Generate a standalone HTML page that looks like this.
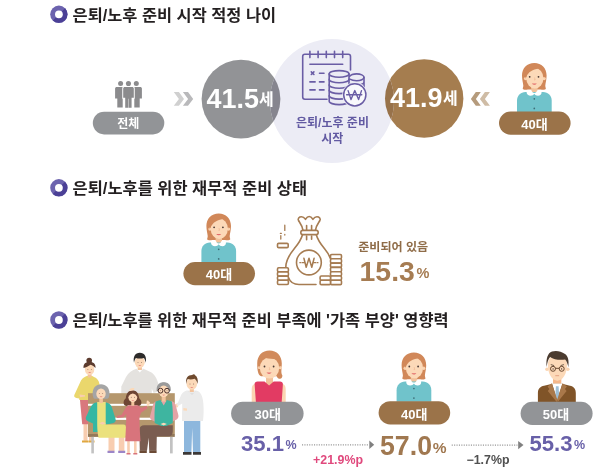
<!DOCTYPE html>
<html lang="ko"><head><meta charset="utf-8"><title>은퇴/노후 준비</title>
<style>
html,body{margin:0;padding:0;background:#fff;}
body{width:600px;height:471px;overflow:hidden;position:relative;font-family:"Liberation Sans",sans-serif;}
svg{display:block;position:absolute;left:0;top:0;filter:blur(0.4px);}
svg text{font-family:"Liberation Sans","Noto Sans CJK KR","NanumGothic",sans-serif;font-weight:bold;}
.sr{position:absolute;left:0;top:0;width:1px;height:1px;overflow:hidden;clip:rect(0 0 0 0);clip-path:inset(50%);white-space:nowrap;font-size:1px;color:transparent;}
</style></head><body>
<svg width="600" height="471" viewBox="0 0 600 471" role="img" aria-label="은퇴/노후 준비 인포그래픽">
<defs>
<clipPath id="cLav"><circle cx="332" cy="101" r="62"/></clipPath>
</defs>

<g transform="translate(58.9 14.3)"><circle cx="0" cy="0" r="8.7" fill="#6c63ae"/><path d="M6.15-6.15A8.7 8.7 0 0 1-6.15 6.15z" fill="#4b4096"/><circle cx="0" cy="0" r="3.9" fill="#fff"/></g>
<text x="72.6" y="20.8" font-size="16" fill="#231f20" textLength="203.5" lengthAdjust="spacingAndGlyphs">은퇴/노후 준비 시작 적정 나이</text>
<g transform="translate(58.9 187.8)"><circle cx="0" cy="0" r="8.7" fill="#6c63ae"/><path d="M6.15-6.15A8.7 8.7 0 0 1-6.15 6.15z" fill="#4b4096"/><circle cx="0" cy="0" r="3.9" fill="#fff"/></g>
<text x="72.6" y="194" font-size="16" fill="#231f20" textLength="234.5" lengthAdjust="spacingAndGlyphs">은퇴/노후를 위한 재무적 준비 상태</text>
<g transform="translate(58.9 320)"><circle cx="0" cy="0" r="8.7" fill="#6c63ae"/><path d="M6.15-6.15A8.7 8.7 0 0 1-6.15 6.15z" fill="#4b4096"/><circle cx="0" cy="0" r="3.9" fill="#fff"/></g>
<text x="72.6" y="326.2" font-size="16" fill="#231f20" textLength="376" lengthAdjust="spacingAndGlyphs">은퇴/노후를 위한 재무적 준비 부족에 '가족 부양' 영향력</text>
<g fill="#8b8b8d">
<circle cx="120.6" cy="83.5" r="2.5"/><circle cx="136.3" cy="83.5" r="2.5"/>
<path d="M115.1 88.5c0-.9.7-1.6 1.6-1.6h6v20.7h-5.4v-9h-2.2z"/>
<path d="M141.9 88.5c0-.9-.7-1.6-1.6-1.6h-6v20.7h5.4v-9h2.2z"/>
<g stroke="#fff" stroke-width="1.7" paint-order="stroke">
<circle cx="128.45" cy="83.5" r="2.55"/>
<path d="M123.2 88.5c0-.9.7-1.6 1.6-1.6h7.4c.9 0 1.6.7 1.6 1.6v9.3h-2.2v10h-3v-9h-.4v9h-3v-10h-2z"/>
</g>
</g>
<rect x="92.8" y="111.8" width="71.5" height="22.6" rx="11.3" fill="#929497"/>
<text x="128.3" y="127.6" font-size="12" fill="#fff" text-anchor="middle">전체</text>
<polygon fill="#d0d0d0" points="173.8,91.9 178.9,91.9 184,98.9 178.9,105.8 173.8,105.8 178.9,98.9"/>
<polygon fill="#b9b9bb" points="182.9,91.9 188,91.9 193.2,98.9 188,105.8 182.9,105.8 188.1,98.9"/>
<circle cx="241" cy="99.1" r="39.4" fill="#929396"/>
<circle cx="424.2" cy="98.5" r="39.2" fill="#a57d4f"/>
<circle cx="332" cy="101" r="62" fill="#ececf5"/>
<g clip-path="url(#cLav)"><circle cx="241" cy="99.1" r="39.4" fill="#86858f"/><circle cx="424.2" cy="98.5" r="39.2" fill="#98724a"/></g>
<text x="206.5" y="108" font-size="27.5" fill="#fff" textLength="52.4" lengthAdjust="spacingAndGlyphs">41.5</text>
<text x="259" y="104.6" font-size="16" fill="#fff">세</text>
<text x="390" y="107.1" font-size="27.5" fill="#fff" textLength="52.5" lengthAdjust="spacingAndGlyphs">41.9</text>
<text x="443.1" y="103.7" font-size="16" fill="#fff">세</text>
<polygon fill="#b59b7c" points="480.8,91.9 475.8,91.9 470.9,98.9 475.8,105.8 480.8,105.8 475.9,98.9"/>
<polygon fill="#cfbca5" points="489.9,91.9 484.9,91.9 479.9,98.9 484.9,105.8 489.9,105.8 484.9,98.9"/>
<text x="332.5" y="127.4" font-size="12" fill="#625aa2" text-anchor="middle">은퇴/노후 준비</text>
<text x="332.2" y="143.2" font-size="12" fill="#625aa2" text-anchor="middle">시작</text>
<g fill="none" stroke="#6a5da5" stroke-width="1.6" stroke-linecap="round" stroke-linejoin="round">
<path d="M327 99.2h-22.1c-1.3 0-2.2-.9-2.2-2.2V56.4c0-1.3.9-2.2 2.2-2.2h43.4c1.3 0 2.2.9 2.2 2.2v13.5"/>
<path d="M309.9 51.2v6.4M318.1 51.2v6.4M326.3 51.2v6.4M334.5 51.2v6.4M342.7 51.2v6.4"/>
<path d="M309.9 64.3h32.8"/>
<path d="M311.3 71.9l2.6 2.6M313.9 71.9l-2.6 2.6M319.5 73.2h4.5M309.9 81.9h5.2M319.5 81.9h4.5M309.9 89.9h5.2M319.5 89.9h4.5"/>
<!-- back stack -->
<path d="M349.4 76.5c1.4-1.7 4-2.6 7.2-2.6 4.1 0 7.4 1.5 7.4 3.4s-3.3 3.4-7.4 3.4c-2.7 0-5.2-.6-6.8-1.6"/>
<path d="M364 77.3v10M364 81.9c0 1.9-3.3 3.4-7.4 3.4-2.7 0-5.2-.6-6.8-1.6"/>
<!-- front stack -->
<g fill="#ececf5">
<path d="M329.2 73.9v27.4a9.9 3.3 0 0 0 19.8 0V73.9z"/>
<ellipse cx="339.1" cy="73.9" rx="9.9" ry="3.3"/>
</g>
<path d="M329.2 79.4c0 1.82 4.44 3.3 9.9 3.3s9.9 -1.48 9.9 -3.3M329.2 84.9c0 1.82 4.44 3.3 9.9 3.3s9.9 -1.48 9.9 -3.3M329.2 90.3c0 1.82 4.44 3.3 9.9 3.3s9.9 -1.48 9.9 -3.3M329.2 95.8c0 1.82 4.44 3.3 9.9 3.3s9.9 -1.48 9.9 -3.3"/>
<!-- won coin -->
<circle cx="354.8" cy="94.8" r="12.6" fill="#ececf5" stroke="none"/>
<circle cx="354.8" cy="94.8" r="11.1" fill="#f9f9fc" stroke-width="1.5"/>
<path d="M348.1 90.6l2.9 9 3.8-9 3.8 9 2.9-9M346.6 94.8h15.2" stroke-width="1.4"/>
</g>
<g>
  <!-- hair -->
  <path d="M534.3 62.9C527 62.9 522 68 522 75.5c0 4 1 7 1.3 10 .1 1.5-.7 2.5-.5 3.5.7 1 3.2.8 5.2.5h12.6c2 .3 4.5.5 5.2-.5.2-1-.6-2-.5-3.5.3-3 1.3-6 1.3-10 0-7.5-5-12.6-12.3-12.6z" fill="#d18859"/>
  <!-- neck -->
  <rect x="531.2" y="84" width="6.4" height="9" fill="#f2c19a"/>
  <!-- ears -->
  <circle cx="525.6" cy="78.6" r="1.7" fill="#fbd5b2"/><circle cx="544.1" cy="78.6" r="1.7" fill="#fbd5b2"/>
  <!-- face -->
  <ellipse cx="534.85" cy="78.3" rx="8.6" ry="10.3" fill="#fcd9b8"/>
  <path d="M525.3 79c-.5-9.5 4-15.2 10.2-15.2 5.5 0 9.7 5.2 9 15.2-.3-5-1.2-8.5-2.8-11.5-4 1.3-10.5 2-13.5 6.2-1.5 1.4-2.4 3.3-2.9 5.3z" fill="#d18859"/>
  <circle cx="529.7" cy="76.8" r=".9" fill="#4a3a35"/><circle cx="538.5" cy="76.8" r=".9" fill="#4a3a35"/>
  <path d="M534.6 77.5l.5 2.4h-1" stroke="#e8a882" stroke-width=".5" fill="none"/>
  <path d="M531.8 83.5c1.3 1.7 3.7 1.7 5 0z" fill="#e26a6a"/>
  <!-- body -->
  <path d="M517 112v-11.5c0-5 3.5-8.6 8.5-8.6h17.6c5 0 8.6 3.6 8.6 8.6V112z" fill="#70c3cb"/>
  <!-- collar -->
  <path d="M526.6 92.2c0-1.1.8-1.7 1.8-1.7h3.2c.3 1.5 1.3 2.4 2.7 2.4s2.5-.9 2.7-2.4h2.8c1 0 1.8.6 1.8 1.7 0 2.2-1.5 3.6-3.6 3.6-1.7 0-3-.8-3.7-2-.7 1.2-2 2-3.7 2-2.1 0-4-1.4-4-3.6z" fill="#fff"/>
  <circle cx="534.3" cy="98.8" r=".85" fill="#3f6f78"/><circle cx="534.3" cy="108.4" r=".85" fill="#3f6f78"/>
  <!-- pill -->
  <rect x="499" y="111.5" width="71.6" height="23.2" rx="11.6" fill="#9b7349"/>
</g>
<text x="534.5" y="128.9" font-size="13" fill="#fff" text-anchor="middle">40대</text>
<g transform="translate(-315.6 150.5)">
  <!-- hair -->
  <path d="M534.3 62.9C527 62.9 522 68 522 75.5c0 4 1 7 1.3 10 .1 1.5-.7 2.5-.5 3.5.7 1 3.2.8 5.2.5h12.6c2 .3 4.5.5 5.2-.5.2-1-.6-2-.5-3.5.3-3 1.3-6 1.3-10 0-7.5-5-12.6-12.3-12.6z" fill="#d18859"/>
  <!-- neck -->
  <rect x="531.2" y="84" width="6.4" height="9" fill="#f2c19a"/>
  <!-- ears -->
  <circle cx="525.6" cy="78.6" r="1.7" fill="#fbd5b2"/><circle cx="544.1" cy="78.6" r="1.7" fill="#fbd5b2"/>
  <!-- face -->
  <ellipse cx="534.85" cy="78.3" rx="8.6" ry="10.3" fill="#fcd9b8"/>
  <path d="M525.3 79c-.5-9.5 4-15.2 10.2-15.2 5.5 0 9.7 5.2 9 15.2-.3-5-1.2-8.5-2.8-11.5-4 1.3-10.5 2-13.5 6.2-1.5 1.4-2.4 3.3-2.9 5.3z" fill="#d18859"/>
  <circle cx="529.7" cy="76.8" r=".9" fill="#4a3a35"/><circle cx="538.5" cy="76.8" r=".9" fill="#4a3a35"/>
  <path d="M534.6 77.5l.5 2.4h-1" stroke="#e8a882" stroke-width=".5" fill="none"/>
  <path d="M531.8 83.5c1.3 1.7 3.7 1.7 5 0z" fill="#e26a6a"/>
  <!-- body -->
  <path d="M517 112v-11.5c0-5 3.5-8.6 8.5-8.6h17.6c5 0 8.6 3.6 8.6 8.6V112z" fill="#70c3cb"/>
  <!-- collar -->
  <path d="M526.6 92.2c0-1.1.8-1.7 1.8-1.7h3.2c.3 1.5 1.3 2.4 2.7 2.4s2.5-.9 2.7-2.4h2.8c1 0 1.8.6 1.8 1.7 0 2.2-1.5 3.6-3.6 3.6-1.7 0-3-.8-3.7-2-.7 1.2-2 2-3.7 2-2.1 0-4-1.4-4-3.6z" fill="#fff"/>
  <circle cx="534.3" cy="98.8" r=".85" fill="#3f6f78"/><circle cx="534.3" cy="108.4" r=".85" fill="#3f6f78"/>
  <!-- pill -->
  <rect x="499" y="111.5" width="71.6" height="23.2" rx="11.6" fill="#9b7349"/>
</g>
<text x="219" y="279.3" font-size="13" fill="#fff" text-anchor="middle">40대</text>
<g fill="none" stroke="#a67c52" stroke-width="1.6" stroke-linecap="round" stroke-linejoin="round">
<!-- bag ruffle -->
<path d="M303 230.3c-.5-4.3-3-7.3-4.5-9.8-1-2 .5-3.7 3-3.7 2 0 3 1.2 4 2.5 1-1.5 2-2.8 3.7-2.8s2.7 1.3 3.7 2.8c1-1.3 2-2.5 4-2.5 2.5 0 4 1.7 3 3.7-1.5 2.5-4 5.5-4.5 9.8"/>
<path d="M306.6 225.5v4.7M311.6 225.5v4.7"/>
<rect x="300.8" y="230.4" width="17.4" height="4.2" rx="2.1"/>
<path d="M306.6 236v3.7M311.6 236v3.2"/>
<!-- bag body -->
<path d="M302.5 234.7c-1.2 4.5-3.6 8.3-8.1 13.8-4.6 5.6-8.6 12-8.6 18.7"/>
<path d="M288.5 277.8c1.5 4 4.8 6.7 10.5 6.7h17"/>
<path d="M316.3 234.7c1.2 4.5 3.6 8.3 8.1 13.8 2.5 3 4.8 6.5 6 10"/>
<circle cx="308.9" cy="262.5" r="12.4"/>
<path d="M303.9 258.2l2.3 9 2.8-9 2.8 9 2.3-9" stroke-width="1.5"/>
<path d="M299.8 262.7h.8M302 262.7h2.6M313.2 262.7h2.6M317.2 262.7h.8" stroke-width="1.2"/>
<!-- coins left -->
<g fill="#fff">
<rect x="277.5" y="267.7" width="10.9" height="4.2" rx="1.2"/><rect x="277.5" y="271.9" width="10.9" height="4.2" rx="1.2"/><rect x="277.5" y="276.1" width="10.9" height="4.2" rx="1.2"/><rect x="277.5" y="280.3" width="10.9" height="4.2" rx="1.2"/>
<rect x="277.5" y="243.4" width="10.7" height="4.2" rx="1.2"/>
<!-- coins right -->
<rect x="330.5" y="254.5" width="11" height="4.3" rx="1.2"/><rect x="330.5" y="258.8" width="11" height="4.3" rx="1.2"/><rect x="330.5" y="263.1" width="11" height="4.3" rx="1.2"/><rect x="330.5" y="267.4" width="11" height="4.3" rx="1.2"/><rect x="330.5" y="271.7" width="11" height="4.3" rx="1.2"/><rect x="330.5" y="276" width="11" height="4.3" rx="1.2"/><rect x="330.5" y="280.3" width="11" height="4.3" rx="1.2"/>
<rect x="320.1" y="276" width="10.4" height="4.3" rx="1.2"/><rect x="320.1" y="280.3" width="10.4" height="4.3" rx="1.2"/>
</g>
<!-- falling dashes -->
<path d="M284.8 225.2v5.2M284.8 234.4v.6M280.8 235.6v3.4M280.4 233.4h.9" stroke-width="1.3"/>
</g>
<text x="358.2" y="250.6" font-size="11.5" fill="#8f6c48" textLength="70" lengthAdjust="spacingAndGlyphs">준비되어 있음</text>
<text x="359.6" y="280.5" font-size="28.5" fill="#a67c52" textLength="55.2" lengthAdjust="spacingAndGlyphs">15.3</text>
<text x="416.6" y="277.6" font-size="14.5" fill="#a67c52">%</text>
<g id="family">
<!-- father -->
<path d="M136.5 368.8c-4.5 1.5-8 4-10.5 8.2l-4.7 9.5V403h30.5v-14.5l1.8 4.5 5-1.5-.3-8c-1.3-5-3.8-9.5-7.8-11.5l-7-3.2z" fill="#e4e2df"/>
<path d="M136.3 368.5h7l-3.5 4z" fill="#fff"/>
<rect x="137.7" y="365" width="4.2" height="5" fill="#f3c39c"/>
<ellipse cx="139.8" cy="362.3" rx="5" ry="5.7" fill="#fcd9b8"/>
<path d="M134 362.8c-1.3-6 1.2-10 5.8-10 4.8 0 7.2 4 5.9 10-.4-2.3-.9-3.8-1.9-4.8-2.5.8-5.8.8-7.8 0-1 1-1.6 2.5-2 4.8z" fill="#2d2b2a"/>
<path d="M138.3 365.2c.9.9 2.2.9 3.1 0z" fill="#e26a6a"/>
<!-- mother legs/skirt -->
<path d="M83.5 423h4v17.8h-4zM89 423h3.5v17.8H89z" fill="#f8cdb0"/>
<path d="M82 440.5h6.2v1.9H82zM88.5 440.5h6v1.9h-6z" fill="#e0a840"/>
<path d="M79.8 398h12.5l-1.5 26.2h-8.6z" fill="#d9787d"/>
<!-- mother body -->
<path d="M87.5 375.8c-2.5.7-5 2.2-6.5 4.7l-6.7 14.5c-.5 1.7.5 2.6 2 2.9l3 .6v1.5H94l5.6-15.5c-.6-4-2.6-6.3-5.6-7.5l-2.2-1.2z" fill="#ead76c"/>
<path d="M80 397.2l5-.7v-1.3l-5.5-.7z" fill="#f8cdb0"/>
<rect x="87.8" y="373" width="3.7" height="4.5" fill="#f3c39c"/>
<ellipse cx="89.6" cy="369.4" rx="4.7" ry="5.5" fill="#fcd9b8"/>
<circle cx="89.2" cy="360.5" r="2.8" fill="#5c3b2e"/>
<path d="M83.5 368c-.3-4 2.2-6.2 6-6.2 3.7 0 6.4 2.2 6 6.2-1.5-1.5-3-2.5-5-3.2-2.2 1.7-4.5 2.5-7 3.2z" fill="#5c3b2e"/>
<path d="M88.2 372.2c.9.9 2.1.9 3 0z" fill="#e26a6a"/>
<!-- bench back -->
<rect x="88" y="393.2" width="86.8" height="41" fill="#b5976d"/>
<rect x="88" y="403.8" width="86.8" height="2" fill="#fff"/>
<rect x="88" y="417.7" width="86.8" height="2.2" fill="#fff"/>
<rect x="88" y="434" width="86.8" height="2.9" fill="#93795a"/>
<rect x="91.3" y="436.9" width="2.6" height="16.5" fill="#c2c2c2"/>
<rect x="170" y="436.9" width="2.7" height="16.5" fill="#c2c2c2"/>
<!-- boy -->
<path d="M184 420h16.3v32H193l-.8-24-.8 24H184z" fill="#8db7dd"/>
<path d="M183 452h8.5v2.8H183zM193 452h8v2.8h-8z" fill="#3c3836"/>
<path d="M186.5 390.5c-3 1-5 3-5.8 5.5l-2.7 6.5-1.8 1.3 1.5 2.5 4.5-2.7-.2 17.4h21c.6-5 .9-11 .4-17-.4-5.5-1.4-9.5-4-12-1.5-1.2-3.4-1.5-5.4-1.5z" fill="#ebebeb"/>
<path d="M187.5 390.6l4.5 4.5 4.5-4.5c-1.5 3.5-7.5 3.5-9 0z" fill="#dcdcdc"/>
<path d="M176.3 403.5l2 3.3-1.6 1-2.2-2.8z" fill="#fcd9b8"/>
<path d="M187 408.5l-3.6-.4v2.3l3.6.4z" fill="#fcd9b8"/>
<rect x="189.8" y="387" width="4" height="5" fill="#f3c39c"/>
<ellipse cx="191.8" cy="383.8" rx="5.3" ry="6" fill="#fcd9b8"/>
<path d="M186.3 384c-1-6 1.5-9 5.8-9 1.2-1 2.6-1 3 .2 2.2 1.4 3.2 4.5 2.5 8.8-.7-2.5-1.5-4.2-3-5.2-2.4 1-5 1-6.8.3-.8 1.2-1.3 2.8-1.5 4.9z" fill="#6f4a2e"/>
<path d="M190.3 387c.9.9 2.1.9 3 0z" fill="#e26a6a"/>
<!-- grandma -->
<path d="M108.5 437h6v14h-6zM118.8 437h5.6v14h-5.6z" fill="#f8cdb0"/>
<path d="M107.5 450.7h7v2.3h-7zM118.2 450.7h7v2.3h-7z" fill="#9c86c8"/>
<path d="M96 402.5c-2.5.5-4.3 2.3-5.5 5l-4.5 9.5c-.8 2 .2 3.5 2 4.3l5 2.2v8.5h6l1-7 5.5-.3 8-1.7c2-.7 2.7-2.2 2-4.2l-3.5-11c-.8-2.8-2.8-4.7-5.5-5.3z" fill="#35b7a3"/>
<path d="M97.2 402h8.5v22.5h17.8c1.8 0 2.4 1 2.5 3 .2 3.5.2 7-.1 10.3H98.5c-.8-4-1.2-7.8-1.3-12.3z" fill="#ebe17d"/>
<path d="M99 423.2l3.5-1.5 3.5 1.5-3.5 1.5z" fill="#f8cdb0"/>
<rect x="99.3" y="398" width="3.6" height="5" fill="#f3c39c"/>
<path d="M92.6 393.5c0-5.5 3.5-9.2 8.4-9.2s8.5 3.7 8.5 9.2c0 3-.8 5.3-2.5 5.3h-12c-1.7 0-2.4-2.3-2.4-5.3z" fill="#a5a5a5"/>
<ellipse cx="101" cy="393.8" rx="4.7" ry="5.3" fill="#fcd9b8"/>
<path d="M96.4 392c.8-2.5 2.3-4.5 5-5.5 2 1.2 3.5 3 4.3 5.5.5-4.5-1.5-7-4.7-7s-5.2 2.5-4.6 7z" fill="#a5a5a5"/>
<path d="M99.5 396.5c.9 1 2.2 1 3.1 0z" fill="#e26a6a"/>
<!-- grandpa -->
<path d="M139.3 430c0-3 2-4.8 5-4.8h28.5v6c0 3-1.5 5-4.5 5h-11.5l-.3 14.5h-7.3l-.5-13-1.7 13h-7.2z" fill="#7a5c50"/>
<path d="M139.5 450.5h7.3v2.5h-7.3zM149.3 450.5h7.3v2.5h-7.3z" fill="#6b4a35"/>
<path d="M157 401c-2.5.8-3.8 2.5-4.3 5l-2.6 10c-.5 2 .3 3.5 2 4.2l9 4.3h5l9-4.3c2.5-1 3.8-2.5 3.3-5l-2.5-9.2c-.6-2.7-2-4.3-4.500-5z" fill="#e3a3a6"/>
<path d="M155.5 401.5l5-1.5 3.2 5.5 3.2-5.5 5 1.5c1 7 1.2 15 .8 21.5l-6.5 3h-5l-6.5-3c-.4-6.5-.2-14.5.8-21.5z" fill="#3eb5a0"/>
<path d="M160.5 424l3.2-1.3 3.2 1.3-3.2 1.500z" fill="#fcd9b8"/>
<rect x="161.7" y="396" width="4" height="5.5" fill="#f3c39c"/>
<path d="M156.7 391c-.7-5.5 2.3-8.7 7-8.7s7.700 3.2 7 8.700z" fill="#9b9b9b"/>
<ellipse cx="163.7" cy="391.3" rx="5" ry="5.8" fill="#fcd9b8"/>
<path d="M158.5 389.5c.5-3 2.3-5 5.2-5s4.700 2 5.2 5c.8-4.5-1.500-7-5.2-7s-6 2.500-5.2 7z" fill="#9b9b9b"/>
<g fill="none" stroke="#4a2f2a" stroke-width="1"><circle cx="160.5" cy="390.7" r="2.4"/><circle cx="167" cy="390.7" r="2.4"/></g>
<path d="M162.3 394.8c.9.8 1.900.8 2.8 0z" fill="#e26a6a"/>
<!-- girl -->
<path d="M127.2 440h2.600v13.500h-2.600zM134 440h2.600v13.500H134z" fill="#f8cdb0"/>
<path d="M126.5 453h4v1.600h-4zM133.3 453h4v1.600h-4z" fill="#d8747c"/>
<path d="M123.8 404c-.7-2.3.3-4.3 2-5.800.5-5 2.800-7.700 6.700-7.700s6.200 2.700 6.700 7.700c1.700 1.500 2.700 3.500 2 5.800-.6 2-3 2.600-4.500 1.300h-8.400c-1.500 1.300-3.900.7-4.500-1.300z" fill="#6e4634"/>
<path d="M129 405.3c-1.700.5-2.800 1.500-3.700 3.200l-3.700 6.300-5 1.200.5 2 6.500-.8 2.600-3.500c.2 9-.5 18-1 27.500h15.300c-.5-8-1.200-17-1-24l1.500-4.500 6.500-4.500-1-2.500-5.500 2.300c-1-1.700-2.300-2.500-4-2.700z" fill="#d8747c"/>
<path d="M146.5 403.8l.3-3 1.300-.3.8 1.200 1 .3-.6 3.800-1.700.8z" fill="#fcd9b8"/>
<rect x="131.3" y="401" width="3" height="4.8" fill="#f3c39c"/>
<ellipse cx="132.8" cy="397.2" rx="4.4" ry="5" fill="#fcd9b8"/>
<path d="M128.3 397c-.3-4 1.500-6.500 4.500-6.500s4.800 2.500 4.500 6.500c-1-2-2.500-3.200-4.500-3.500-2 .3-3.500 1.500-4.500 3.500z" fill="#6e4634"/>
<path d="M131.5 400.2c.8.8 1.800.8 2.600 0z" fill="#e26a6a"/>
<!-- father hand -->
<path d="M129.5 389.5c1-1.300 3-1.800 5-1.300l-1 2.300c-1.300-.2-2.500 0-3.500.5z" fill="#fcd9b8"/>
<g fill="#5a4038">
<circle cx="87.900" cy="369.6" r=".45"/><circle cx="91.3" cy="369.6" r=".45"/>
<circle cx="138" cy="362.4" r=".45"/><circle cx="141.6" cy="362.4" r=".45"/>
<circle cx="99.3" cy="393.4" r=".45"/><circle cx="102.7" cy="393.4" r=".45"/>
<circle cx="131.2" cy="397.2" r=".45"/><circle cx="134.4" cy="397.2" r=".45"/>
<circle cx="160.5" cy="390.8" r=".45"/><circle cx="167" cy="390.8" r=".45"/>
<circle cx="190" cy="384" r=".45"/><circle cx="193.6" cy="384" r=".45"/>
</g>
</g>

<g>
<path d="M269.5 350.6c-7.4 0-12.3 5.3-12.3 12.8 0 4 .3 6.8 1 9.3.5 1.800 1.500 3 3 3.500h15.500c.8 1.800 1.800 2.600 3.300 2.600 1.700-.2 2.300-1.600 2.400-3.300-.8-1.300-1.200-3-1-5.500.2-2.200.4-4.200.4-6.600 0-7.500-4.900-12.800-12.3-12.800z" fill="#d18a5b"/>
<path d="M266 376h7v10.500h-7z" fill="#f2c19a"/>
<circle cx="280.3" cy="367.6" r="1.7" fill="#fbd5b2"/><circle cx="259.3" cy="367.6" r="1.5" fill="#fbd5b2"/>
<ellipse cx="269.5" cy="368" rx="9.7" ry="10.5" fill="#fcd9b8"/>
<path d="M259 368.5c-.8-6 .8-11.500 3.500-13.500 5-2.500 13-2.300 16 2 1.800 3 2.300 7 1.500 11.500-.3-4-1.200-7.500-3-9.800-4 .5-10.500 0-13.800-1.700-2 2.500-3.500 7-4.200 11.500z" fill="#d18a5b"/>
<circle cx="264.5" cy="366.5" r=".9" fill="#4a3a35"/><circle cx="273.6" cy="366.5" r=".9" fill="#4a3a35"/>
<path d="M269.3 367.2l.6 2.500h-1.100" stroke="#e8a882" stroke-width=".5" fill="none"/>
<path d="M266.5 372.6c1.300 1.800 3.800 1.800 5.100 0z" fill="#e26a6a"/>
<path d="M251.7 402v-13c0-3.300 1.700-5.200 4.800-5.500V402zM285.7 402v-13c0-3.300-1.700-5.200-4.800-5.500V402z" fill="#fbd5b2"/>
<path d="M255.9 402l-1.300-18c0-1.700 1.200-2.600 2.900-2.600h7l4.600 4.200 4.600-4.200h6.300c1.700 0 2.900.9 2.900 2.600l-1.200 18z" fill="#e23b63"/>
<rect x="231.1" y="401.8" width="72.5" height="23.2" rx="11.6" fill="#929497"/>
</g>
<text x="267.800" y="419" font-size="13" fill="#fff" text-anchor="middle">30대</text>
<text x="241" y="451.4" font-size="21.5" fill="#6860a8" textLength="43" lengthAdjust="spacingAndGlyphs">35.1</text>
<text x="285.5" y="449.3" font-size="12.500" fill="#6860a8">%</text>
<path d="M302 444.8H368.5" stroke="#979797" stroke-width="1.3" stroke-dasharray="1.1 1.3" fill="none"/><polygon points="369.3,440.6 374.2,444.8 369.3,449" fill="#808080"/>
<path d="M451.7 445.1H517.4" stroke="#979797" stroke-width="1.3" stroke-dasharray="1.1 1.3" fill="none"/><polygon points="518.1999999999999,440.90000000000003 523.5,445.1 518.1999999999999,449.3" fill="#808080"/>
<text x="313" y="464" font-size="12" fill="#e0497d" textLength="50" lengthAdjust="spacingAndGlyphs">+21.9%p</text>
<text x="466.5" y="464.3" font-size="12" fill="#505050" textLength="43" lengthAdjust="spacingAndGlyphs">−1.7%p</text>
<g transform="translate(-120.4 289.7)">
  <!-- hair -->
  <path d="M534.3 62.9C527 62.9 522 68 522 75.5c0 4 1 7 1.3 10 .1 1.5-.7 2.5-.5 3.5.7 1 3.2.8 5.2.5h12.6c2 .3 4.5.5 5.2-.5.2-1-.6-2-.5-3.5.3-3 1.3-6 1.3-10 0-7.500-5-12.6-12.3-12.6z" fill="#d18859"/>
  <!-- neck -->
  <rect x="531.2" y="84" width="6.4" height="9" fill="#f2c19a"/>
  <!-- ears -->
  <circle cx="525.6" cy="78.6" r="1.7" fill="#fbd5b2"/><circle cx="544.1" cy="78.6" r="1.7" fill="#fbd5b2"/>
  <!-- face -->
  <ellipse cx="534.85" cy="78.3" rx="8.6" ry="10.3" fill="#fcd9b8"/>
  <path d="M525.3 79c-.5-9.500 4-15.2 10.2-15.2 5.500 0 9.700 5.200 9 15.2-.3-5-1.200-8.500-2.800-11.500-4 1.300-10.500 2-13.500 6.200-1.500 1.400-2.400 3.300-2.900 5.300z" fill="#d18859"/>
  <circle cx="529.7" cy="76.8" r=".9" fill="#4a3a35"/><circle cx="538.5" cy="76.8" r=".9" fill="#4a3a35"/>
  <path d="M534.6 77.5l.5 2.400h-1" stroke="#e8a882" stroke-width=".5" fill="none"/>
  <path d="M531.8 83.5c1.300 1.700 3.700 1.700 5 0z" fill="#e26a6a"/>
  <!-- body -->
  <path d="M517 112v-11.500c0-5 3.500-8.600 8.500-8.600h17.600c5 0 8.600 3.600 8.600 8.600V112z" fill="#70c3cb"/>
  <!-- collar -->
  <path d="M526.6 92.2c0-1.100.8-1.700 1.800-1.700h3.200c.3 1.500 1.300 2.400 2.700 2.400s2.500-.9 2.700-2.400h2.800c1 0 1.800.6 1.800 1.700 0 2.200-1.500 3.600-3.600 3.600-1.700 0-3-.8-3.700-2-.7 1.200-2 2-3.700 2-2.100 0-4-1.400-4-3.600z" fill="#fff"/>
  <circle cx="534.3" cy="98.8" r=".85" fill="#3f6f78"/><circle cx="534.3" cy="108.4" r=".85" fill="#3f6f78"/>
  <!-- pill -->
  <rect x="499" y="111.5" width="71.6" height="23.2" rx="11.6" fill="#9b7349"/>
</g>
<text x="414.2" y="418.6" font-size="13" fill="#fff" text-anchor="middle">40대</text>
<text x="380" y="455.3" font-size="27" fill="#a07850" textLength="52" lengthAdjust="spacingAndGlyphs">57.0</text>
<text x="432.7" y="453.2" font-size="15.500" fill="#a07850">%</text>
<g>
<rect x="553" y="376" width="8.3" height="11" fill="#f5b78a"/>
<circle cx="547" cy="369.2" r="1.8" fill="#fbd5b2"/><circle cx="567.8" cy="369.2" r="1.8" fill="#fbd5b2"/>
<path d="M547.8 365c0-6 3.500-10 9.600-10s9.600 4 9.600 10c0 8.500-4.200 15.700-9.600 15.700s-9.600-7.200-9.600-15.700z" fill="#fcd9b8"/>
<path d="M546.7 367c-1-8 1-14 5.300-15.400 4-1.400 9-.3 13 2.300 3 2 4.200 6 3.300 13.300-.6-3.500-1.600-6.300-3.200-7.800-5 1-11.500 0-15-2.500-1.800 2-2.900 5.500-3.400 10.100z" fill="#4b3b2f"/>
<g fill="none" stroke="#5a3a22" stroke-width=".9"><circle cx="553" cy="368.8" r="2.5"/><circle cx="561.7" cy="368.8" r="2.5"/><path d="M555.5 368.3h3.700"/></g>
<circle cx="553.1" cy="368.9" r=".7" fill="#4a3a35"/><circle cx="561.6" cy="368.9" r=".7" fill="#4a3a35"/>
<path d="M550.8 364.6l3.300 1M563.9 364.6l-3.300 1" stroke="#4b3b2f" stroke-width=".8"/>
<path d="M555.3 375.7h3.800" stroke="#d98a6a" stroke-width=".7"/>
<path d="M537.9 402v-9c0-4.500 2.600-6.500 6.100-7.300l8.500-1.900h9.500l8 1.900c3.500.8 5.800 2.800 5.800 7.300v9z" fill="#805428"/>
<path d="M552 383.6l5.200 16.500 5.200-16.500z" fill="#fff"/>
<path d="M555.9 386.3h2.700l.6 10.3-1.950 3.500-1.950-3.500z" fill="#9fbfd6"/>
<path d="M551.8 383.3l-4.300 3.300 1.900 2.400-1.600 1.900 8.900 11.100.5-2.400zM562.6 383.3l4.300 3.300-1.900 2.400 1.600 1.900-8.900 11.100-.5-2.400z" fill="#a9784a"/>
<rect x="520.6" y="401.8" width="72" height="23.2" rx="11.6" fill="#929497"/>
</g>
<text x="556" y="419" font-size="13" fill="#fff" text-anchor="middle">50대</text>
<text x="529.5" y="451.4" font-size="21.5" fill="#6860a8" textLength="43" lengthAdjust="spacingAndGlyphs">55.3</text>
<text x="574" y="449.3" font-size="12.500" fill="#6860a8">%</text></svg>
<div class="sr">
<p>은퇴/노후 준비 시작 적정 나이</p>
<p>전체 41.5세</p>
<p>은퇴/노후 준비 시작</p>
<p>40대 41.9세</p>
<p>은퇴/노후를 위한 재무적 준비 상태</p>
<p>40대 준비되어 있음 15.3%</p>
<p>은퇴/노후를 위한 재무적 준비 부족에 '가족 부양' 영향력</p>
<p>30대 35.1%</p>
<p>+21.9%p</p>
<p>40대 57.0%</p>
<p>−1.7%p</p>
<p>50대 55.3%</p>
</div>
</body></html>
